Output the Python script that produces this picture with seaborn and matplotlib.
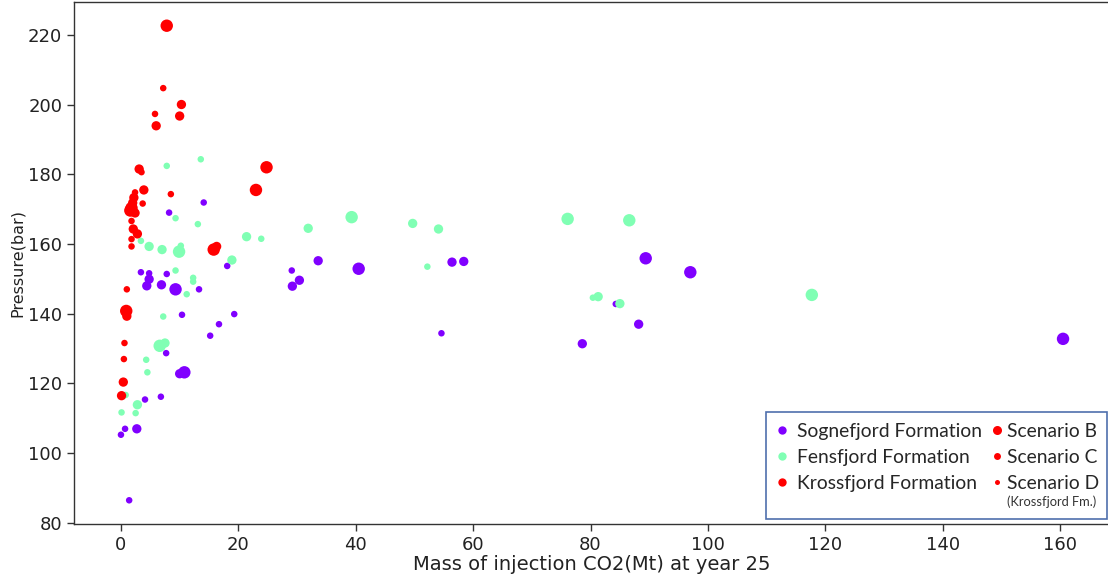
import matplotlib
matplotlib.use("Agg")
import matplotlib.pyplot as plt
from matplotlib.lines import Line2D
from matplotlib.patches import Rectangle
import pandas as pd
import seaborn as sns

# Injected CO2 mass (Mt) at year 25 vs. pressure (bar), per formation and scenario
sog_x = [0.0, 0.7, 2.7, 1.4, 4.1, 6.8, 10.0, 10.8, 7.7, 3.4,
         4.8, 4.8, 4.4, 6.9, 7.8, 9.3, 13.3, 18.1, 10.4, 19.3,
         16.7, 15.2, 14.1, 8.2, 29.1, 33.6, 30.4, 29.2, 40.5, 56.4,
         58.4, 54.6, 89.4, 97.0, 84.3, 88.2, 78.6, 160.5]
sog_y = [105.3, 107.0, 107.0, 86.5, 115.4, 116.2, 122.8, 123.2, 128.7, 151.9,
         151.6, 149.9, 148.0, 148.3, 151.4, 147.0, 147.0, 153.7, 139.7, 139.9,
         137.0, 133.7, 171.9, 169.0, 152.4, 155.2, 149.6, 147.9, 152.9, 154.8,
         155.0, 134.4, 155.9, 151.9, 142.8, 137.0, 131.4, 132.8]
sog_s = ["D", "D", "C", "D", "D", "D", "C", "B", "D", "D",
         "D", "C", "C", "C", "D", "B", "D", "D", "D", "D",
         "D", "D", "D", "D", "D", "C", "C", "C", "B", "C",
         "C", "D", "B", "B", "D", "C", "C", "B"]

fen_x = [7.8, 13.6, 9.3, 13.1, 3.4, 4.8, 7.0, 9.9, 10.2, 21.4,
         23.9, 18.9, 9.3, 12.3, 12.3, 11.2, 7.2, 6.6, 7.5, 4.3,
         4.5, 0.8, 2.8, 0.1, 2.5, 31.9, 39.3, 49.7, 54.1, 52.2,
         76.1, 86.6, 80.4, 81.3, 85.0, 117.7]
fen_y = [182.4, 184.3, 167.4, 165.7, 160.9, 159.3, 158.4, 157.8, 159.5, 162.1,
         161.5, 155.4, 152.4, 150.3, 149.2, 145.6, 139.2, 130.8, 131.6, 126.8,
         123.2, 116.7, 113.9, 111.7, 111.5, 164.5, 167.7, 165.9, 164.3, 153.5,
         167.2, 166.8, 144.6, 144.9, 142.9, 145.4]
fen_s = ["D", "D", "D", "D", "D", "C", "C", "B", "D", "C",
         "D", "C", "D", "D", "D", "D", "D", "B", "C", "D",
         "D", "D", "C", "D", "D", "C", "B", "C", "C", "D",
         "B", "B", "D", "C", "C", "B"]

kro_x = [7.8, 7.2, 10.3, 5.8, 10.0, 6.0, 24.8, 3.1, 3.5, 23.0,
         3.9, 8.5, 3.7, 2.4, 2.2, 2.0, 1.8, 1.6, 2.4, 1.8,
         2.1, 2.8, 1.8, 1.8, 15.8, 16.3, 1.0, 0.9, 1.0, 0.6,
         0.5, 0.4, 0.1]
kro_y = [222.6, 204.7, 200.0, 197.3, 196.7, 193.9, 182.0, 181.5, 180.6, 175.5,
         175.5, 174.3, 171.6, 174.8, 173.3, 171.8, 170.3, 169.6, 168.9, 166.6,
         164.3, 162.9, 161.4, 159.3, 158.4, 159.3, 147.0, 140.8, 139.3, 131.6,
         127.0, 120.4, 116.5]
kro_s = ["B", "D", "C", "D", "C", "C", "B", "C", "D", "B",
         "C", "D", "D", "D", "C", "C", "B", "B", "C", "D",
         "C", "C", "D", "D", "B", "C", "D", "B", "C", "D",
         "D", "C", "C"]

formations = ["Sognefjord Formation", "Fensfjord Formation", "Krossfjord Formation"]
scenario_codes = ["B", "C", "D"]
scenario_labels = ["Scenario B", "Scenario C", "Scenario D"]
colors = ["#8000ff", "#80ffb4", "#ff0000"]
x_ticks = [0, 20, 40, 60, 80, 100, 120, 140, 160]
y_ticks = [80, 100, 120, 140, 160, 180, 200, 220]

frames = []
for name, xs, ys, ss in zip(formations, [sog_x, fen_x, kro_x],
                            [sog_y, fen_y, kro_y], [sog_s, fen_s, kro_s]):
    frames.append(pd.DataFrame({"mass": xs, "pressure": ys,
                                "formation": name, "scenario": ss}))
df = pd.concat(frames, ignore_index=True)

sns.set_style("ticks")
plt.rcParams["font.family"] = ["DejaVu Sans"]

W, H = 1108, 580
fig = plt.figure(figsize=(W / 100, H / 100), dpi=100)
ax = fig.add_axes([74 / W, 1 - 524 / H, 1036 / W, 522 / H])

marker_area = {"B": 80, "C": 45, "D": 22}
sns.scatterplot(data=df, x="mass", y="pressure", hue="formation", size="scenario",
                hue_order=formations, size_order=scenario_codes,
                palette=dict(zip(formations, colors)), sizes=marker_area,
                linewidth=0, legend=False, ax=ax)

ax.set_xlim(-8, 168.5)
ax.set_ylim(79.7, 229.4)
ax.set_xticks(x_ticks)
ax.set_yticks(y_ticks)
ax.set_xlabel("Mass of injection CO2(Mt) at year 25", fontsize=14, color="#222222",
              labelpad=1)
ax.set_ylabel("Pressure(bar)", fontsize=11.5, color="#222222", labelpad=2)
ax.tick_params(labelsize=13, length=5, width=1, color="#333333", labelcolor="#222222")
for sp in ax.spines.values():
    sp.set_color("#333333")
    sp.set_linewidth(1)

# Legend box with two columns: formations (colour) and scenarios (marker size)
fig.add_artist(Rectangle((766 / W, 1 - 519 / H), (1107 - 766) / W, (519 - 412) / H,
                         transform=fig.transFigure, facecolor="white",
                         edgecolor="#4f6fad", linewidth=1.2, zorder=4))

leg_font = {"family": "Lato", "size": 13.9}
form_handles = [Line2D([], [], ls="", marker="o", ms=6, color=c, mec="none")
                for c in colors]
leg1 = fig.legend(form_handles, formations, loc="upper left",
                  bbox_to_anchor=(774 / W, 1 - 423 / H), frameon=False, prop=leg_font,
                  handlelength=0.8, handletextpad=0.38, labelspacing=0.47,
                  borderpad=0, borderaxespad=0)
leg1.set_zorder(5)

scen_handles = [Line2D([], [], ls="", marker="o", ms=m, color="#ff0000", mec="none")
                for m in (6.5, 5.0, 3.6)]
leg2 = fig.legend(scen_handles, scenario_labels, loc="upper left",
                  bbox_to_anchor=(991 / W, 1 - 423 / H), frameon=False, prop=leg_font,
                  handlelength=0.6, handletextpad=0.22, labelspacing=0.47,
                  borderpad=0, borderaxespad=0)
leg2.set_zorder(5)

fig.text(1007 / W, 1 - 502 / H, "(Krossfjord Fm.)", family="Lato", fontsize=9.3,
         color="#333333", va="center", ha="left", zorder=6)

fig.savefig("out.png", dpi=100)
